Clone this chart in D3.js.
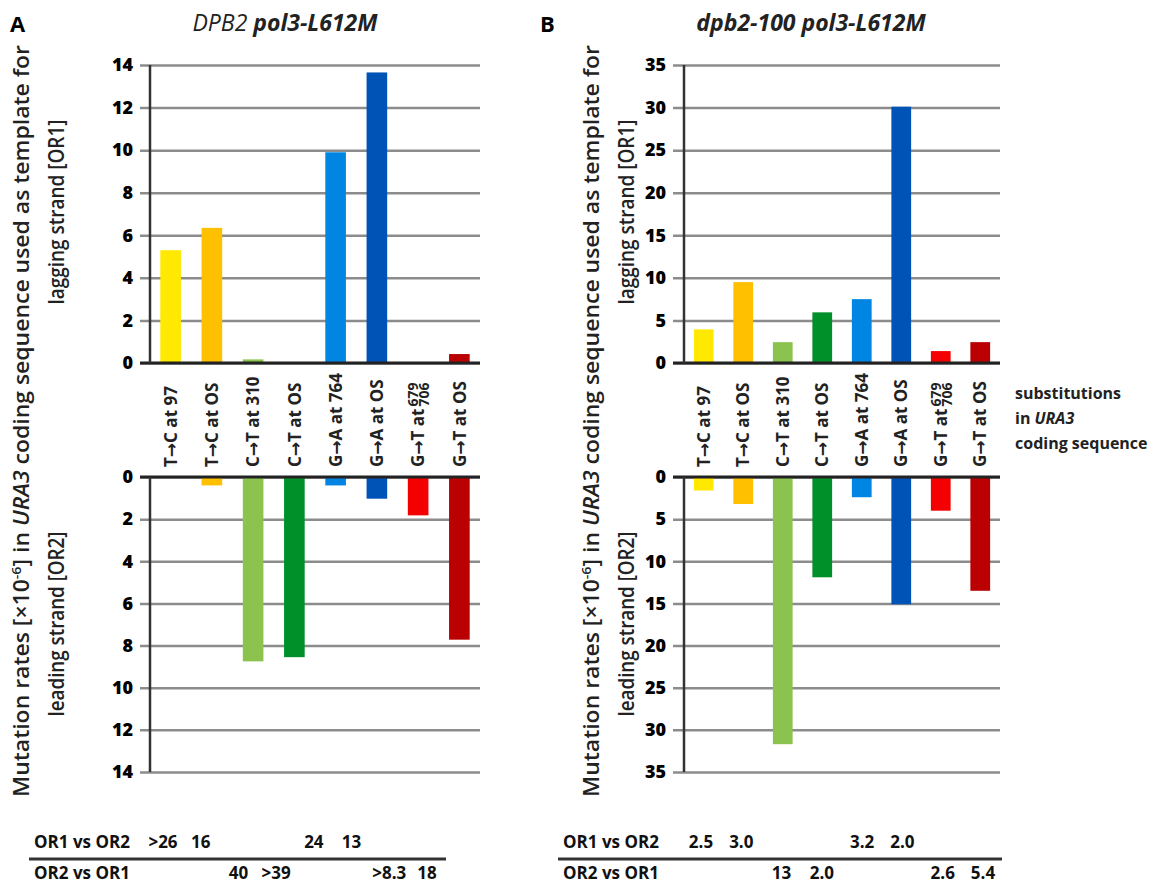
<!DOCTYPE html>
<html lang="en">
<head>
  <meta charset="UTF-8">
  <title>URA3 mutation rates</title>
  <style>
    body { margin: 0; background: #fff; font-family: "Open Sans", sans-serif; }
    .grid line { stroke: #8c8c8c; stroke-width: 2.5; }
    .grid path { display: none; }
    .cat { font: bold 17px "Open Sans", sans-serif; fill: #222; }
    .arr { font-family: "DejaVu Sans", sans-serif; font-weight: bold; }
    .tbl { font: bold 17px "Open Sans", sans-serif; fill: #111; }
    .ytl { font-size: 21px; font-weight: 600; fill: #222; font-family: "Open Sans", sans-serif; }
  </style>
  <script src="https://d3js.org/d3.v7.min.js"></script>
</head>
<body>
  <div id="chart"></div>
  <script>
    var categories = ["T→C at 97", "T→C at OS", "C→T at 310", "C→T at OS",
                      "G→A at 764", "G→A at OS", "G→T at", "G→T at OS"];
    var colors = ["#ffe900", "#ffc000", "#8bc34e", "#00902a",
                  "#0085e2", "#0053b6", "#f50000", "#ba0000"];

    // panel A: DPB2 pol3-L612M
    var a_or1 = [5.3, 6.35, 0.17, 0, 9.9, 13.65, 0, 0.42];
    var a_or2 = [0, 0.4, 8.75, 8.55, 0.4, 1.03, 1.82, 7.72];
    var a_ticks = [0, 2, 4, 6, 8, 10, 12, 14];
    var a_row1 = [">26", "16", "", "", "24", "13", "", ""];
    var a_row2 = ["", "", "40", ">39", "", "", ">8.3", "18"];

    // panel B: dpb2-100 pol3-L612M
    var b_or1 = [3.95, 9.5, 2.45, 5.95, 7.5, 30.1, 1.4, 2.45];
    var b_or2 = [1.6, 3.2, 31.7, 11.9, 2.4, 15.1, 4.0, 13.5];
    var b_ticks = [0, 5, 10, 15, 20, 25, 30, 35];
    var b_row1 = ["2.5", "3.0", "", "", "3.2", "2.0", "", ""];
    var b_row2 = ["", "", "13", "2.0", "", "", "2.6", "5.4"];

    var svg = d3.select("#chart").append("svg")
      .attr("width", 1166).attr("height", 887);

    var topY0 = 65, topY1 = 363, botY0 = 477, botY1 = 772;

    function panel(p) {
      var g = svg.append("g");
      var x = d3.scaleBand().domain(categories)
        .range([p.axisX, p.right]).paddingInner(0.5).paddingOuter(0.25);
      var yTop = d3.scaleLinear().domain([0, p.max]).range([topY1, topY0]);
      var yBot = d3.scaleLinear().domain([0, p.max]).range([botY0, botY1]);

      // gridlines through the axis generator
      [yTop, yBot].forEach(function(y) {
        var ax = g.append("g").attr("class", "grid")
          .attr("transform", "translate(" + p.gridX + ",0)")
          .call(d3.axisLeft(y).tickValues(p.ticks).tickSize(-(p.right - p.gridX)).tickPadding(7));
        ax.selectAll("text")
          .style("font-family", "'Open Sans', sans-serif")
          .style("font-size", "18px").style("font-weight", 800).style("fill", "#000");
      });

      // bars
      g.selectAll(".up").data(p.or1).enter().append("rect")
        .attr("x", function(d, i) { return x(categories[i]); })
        .attr("width", x.bandwidth())
        .attr("y", function(d) { return yTop(d); })
        .attr("height", function(d) { return yTop(0) - yTop(d); })
        .attr("fill", function(d, i) { return colors[i]; });
      g.selectAll(".down").data(p.or2).enter().append("rect")
        .attr("x", function(d, i) { return x(categories[i]); })
        .attr("width", x.bandwidth())
        .attr("y", yBot(0))
        .attr("height", function(d) { return yBot(d) - yBot(0); })
        .attr("fill", function(d, i) { return colors[i]; });

      // dark axis lines
      g.append("line").attr("x1", p.gridX).attr("x2", p.right)
        .attr("y1", yTop(0)).attr("y2", yTop(0)).attr("stroke", "#222").attr("stroke-width", 3);
      g.append("line").attr("x1", p.gridX).attr("x2", p.right)
        .attr("y1", yBot(0)).attr("y2", yBot(0)).attr("stroke", "#222").attr("stroke-width", 3);
      g.append("line").attr("x1", p.axisX).attr("x2", p.axisX)
        .attr("y1", topY0).attr("y2", topY1).attr("stroke", "#333").attr("stroke-width", 2.5);
      g.append("line").attr("x1", p.axisX).attr("x2", p.axisX)
        .attr("y1", botY0).attr("y2", botY1).attr("stroke", "#333").attr("stroke-width", 2.5);

      // category labels
      categories.forEach(function(c, i) {
        var cx = x(c) + x.bandwidth() / 2;
        var parts = c.split("→");
        var t = g.append("text").attr("class", "cat")
          .attr("transform", "translate(" + cx + ",467) rotate(-90)")
          .attr("dy", "0.36em");
        t.append("tspan").text(parts[0]);
        t.append("tspan").attr("class", "arr").text("→");
        t.append("tspan").text(parts[1]);
        if (i === 6) {
          var len = t.node().getComputedTextLength();
          g.append("text").attr("class", "cat").style("font-size", "14px")
            .attr("transform", "translate(" + (cx - 5) + "," + (465 - len) + ") rotate(-90)")
            .attr("dy", "0.36em").text("679");
          g.append("text").attr("class", "cat").style("font-size", "14px")
            .attr("transform", "translate(" + (cx + 6) + "," + (465 - len) + ") rotate(-90)")
            .attr("dy", "0.36em").text("706");
        }
      });

      // y axis title
      var yt = g.append("text").attr("class", "ytl")
        .attr("transform", "translate(" + p.titleX + ",421) rotate(-90)")
        .attr("text-anchor", "middle").attr("dy", "0.35em")
        .attr("textLength", 752).attr("lengthAdjust", "spacingAndGlyphs");
      yt.append("tspan").text("Mutation rates [×10");
      yt.append("tspan").attr("dy", -8).style("font-size", "13px").text("-6");
      yt.append("tspan").attr("dy", 8).text("] in ");
      yt.append("tspan").style("font-style", "italic").text("URA3");
      yt.append("tspan").text(" coding sequence used as template for");
      [["lagging strand [OR1]", 212], ["leading strand [OR2]", 624]].forEach(function(s) {
        g.append("text").attr("class", "ytl")
          .attr("transform", "translate(" + (p.titleX + 35) + "," + s[1] + ") rotate(-90)")
          .attr("text-anchor", "middle").attr("dy", "0.35em")
          .attr("textLength", 185).attr("lengthAdjust", "spacingAndGlyphs")
          .text(s[0]);
      });

      // panel letter and title
      g.append("text").attr("x", p.letterX).attr("y", 32)
        .style("font-size", "22px").style("font-weight", "bold").text(p.letter);
      var tt = g.append("text").attr("x", p.headX).attr("y", 31).attr("text-anchor", "middle")
        .style("font-size", "23px").style("font-style", "italic").style("fill", "#222");
      tt.append("tspan").style("font-weight", p.firstBold ? "bold" : "normal").text(p.head[0] + " ");
      tt.append("tspan").style("font-weight", "bold").text(p.head[1]);

      // ratio table
      var tx = d3.scalePoint().domain(categories).range(p.tableRange);
      g.append("text").attr("class", "tbl").attr("x", p.tableX).attr("y", 848).text("OR1 vs OR2");
      g.append("text").attr("class", "tbl").attr("x", p.tableX).attr("y", 879).text("OR2 vs OR1");
      g.append("line").attr("x1", p.tableX - 5).attr("x2", p.tableRange[1] + 19)
        .attr("y1", 859).attr("y2", 859).attr("stroke", "#333").attr("stroke-width", 3);
      [[p.row1, 848], [p.row2, 879]].forEach(function(r) {
        g.selectAll(null).data(r[0]).enter().append("text").attr("class", "tbl")
          .attr("x", function(d, i) { return tx(categories[i]); })
          .attr("y", r[1]).attr("text-anchor", "middle").text(function(d) { return d; });
      });
    }

    panel({ or1: a_or1, or2: a_or2, ticks: a_ticks, max: 14, row1: a_row1, row2: a_row2,
            axisX: 150, gridX: 140, right: 480, titleX: 22, letter: "A", letterX: 10,
            head: ["DPB2", "pol3-L612M"], firstBold: false, headX: 285,
            tableRange: [163, 427], tableX: 34 });
    panel({ or1: b_or1, or2: b_or2, ticks: b_ticks, max: 35, row1: b_row1, row2: b_row2,
            axisX: 684, gridX: 673, right: 1000, titleX: 592, letter: "B", letterX: 540,
            head: ["dpb2-100", "pol3-L612M"], firstBold: true, headX: 811,
            tableRange: [701, 983], tableX: 563 });

    // side note
    var note = svg.append("g").style("font-size", "16px").style("font-weight", "bold").style("fill", "#222");
    note.append("text").attr("x", 1015).attr("y", 399).text("substitutions");
    var n2 = note.append("text").attr("x", 1015).attr("y", 424);
    n2.append("tspan").text("in ");
    n2.append("tspan").style("font-style", "italic").text("URA3");
    note.append("text").attr("x", 1015).attr("y", 449).text("coding sequence");
  </script>
</body>
</html>
